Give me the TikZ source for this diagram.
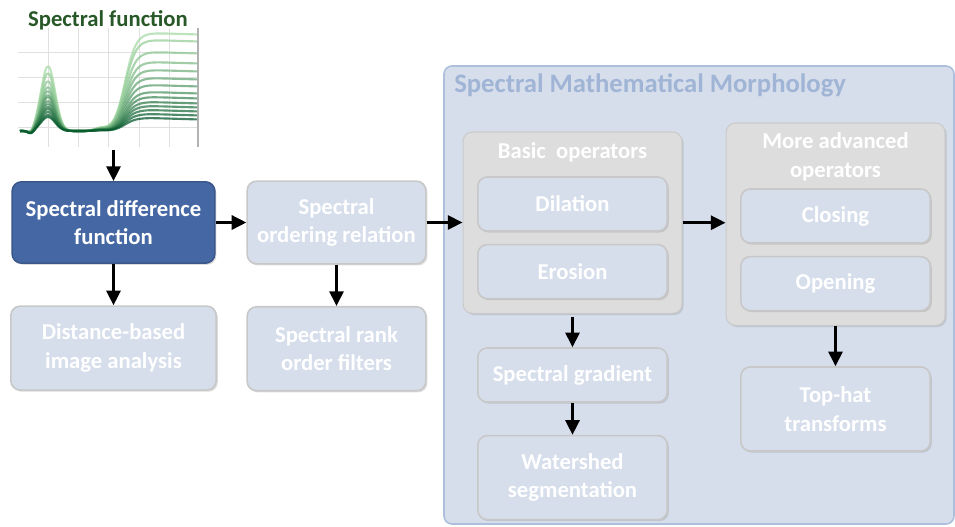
\documentclass[tikz,border=0pt]{standalone}
\usepackage{fontspec}
\setmainfont{Carlito}
\usetikzlibrary{positioning,arrows.meta,fit,backgrounds,calc,shadows}
\definecolor{mmdark}{RGB}{69,104,164}
\definecolor{mmlight}{RGB}{214,222,235}
\definecolor{mmedge}{RGB}{200,200,200}
\definecolor{mmgroup}{RGB}{221,221,221}
\definecolor{mmframe}{RGB}{172,192,222}
\definecolor{mmtitle}{RGB}{160,180,214}
\definecolor{mmgreen}{RGB}{40,88,40}
\definecolor{mmleaflight}{RGB}{165,218,165}
\definecolor{mmleafdark}{RGB}{0,85,40}
\newcommand\mmfont{\fontsize{17}{21.5}\selectfont\bfseries}
\tikzset{
  mm/.style={font=\mmfont, text=white},
  mmshadow/.style={drop shadow={shadow xshift=1.2pt, shadow yshift=-1.2pt, opacity=0.3, fill=black!45}},
  mmbox/.style 2 args={
    mm, draw=#1, fill=#2, line width=1.2pt, rounded corners=7pt,
    align=center, inner sep=2pt, mmshadow
  },
  mmarr/.style={-{Triangle[length=11pt,width=10.5pt]}, line width=2.2pt, draw=black},
  mmgroupbox/.style={
    draw=mmgroup!92!black, fill=mmgroup, line width=0.8pt, rounded corners=7pt,
    inner sep=10.5pt, mmshadow
  },
  mmframebox/.style={draw=mmframe, fill=mmlight, line width=1.2pt, rounded corners=6pt},
  mmcurve/.style={line width=1.6pt, opacity=0.75, line join=round},
}

\begin{document}
\begin{tikzpicture}[x=0.75pt, y=-0.75pt, mm]
    \useasboundingbox (0,0) rectangle (955,526);

    % Spectral function (chart)
    \node[minimum width=136.5pt, minimum height=89pt, inner sep=0pt] (chart) at (109,87.5) {};
    \node[font=\mmfont, text=mmgreen, inner sep=0pt] (charttitle) at (108,20) {Spectral function};
    \foreach \gx in {48,78,108,139,169}
      \draw[black!12, line width=0.5pt] (\gx,28) -- (\gx,147);
    \foreach \gy in {52,77,102,127}
      \draw[black!12, line width=0.5pt] (18,\gy) -- (198,\gy);
    \draw[black!30, line width=0.8pt] (198,28) -- (198,147);
    \foreach \t/\p/\q in {0/65/33, 8/58/40, 15/50/52, 22/44/62, 30/40/70, 38/36/78, 45/34/85,
                          52/30/92, 60/27/97, 66/24/102, 72/22/106, 80/19/110, 88/16/114, 96/14/118} {
      \draw[mmcurve, draw=mmleafdark!\t!mmleaflight] plot[domain=20:197, samples=80, smooth]
        (\x, {131 + 3*exp(-min(9,((\x-31)/4)^2)) - \p*exp(-min(9,((\x-48)/10)^2))
              - 0.04*\p*exp(-min(9,((\x-100)/8)^2))
              - (131-\q)/(1+exp(max(-8,min(8,(125-\x)/5.5)))) + 0.03*(\x-150)*(\x>150)});
    }

    % Main row
    \node[mmbox={mmdark!85!black}{mmdark}, minimum width=152pt, minimum height=61pt] (sdf) at (113.5,222.5) {Spectral difference\\function};
    \node[mmbox={mmedge}{mmlight}, minimum width=134pt, minimum height=62pt] (sor) at (336.5,222.5) {Spectral\\ordering relation};
    \node[mmbox={mmedge}{mmlight}, minimum width=154pt, minimum height=63pt, below=31pt of sdf] (dba) {Distance-based\\image analysis};
    \node[mmbox={mmedge}{mmlight}, minimum width=134pt, minimum height=63pt, below=31pt of sor] (srof) {Spectral rank\\order filters};

    % Spectral Mathematical Morphology
    \node[mmbox={mmedge}{mmlight}, minimum width=142pt, minimum height=40.5pt] (dil) at (572.5,204) {Dilation};
    \node[mmbox={mmedge}{mmlight}, minimum width=142pt, minimum height=40.5pt, below=9pt of dil] (ero) {Erosion};
    \node[mmbox={mmedge}{mmlight}, minimum width=142pt, minimum height=40.5pt] (clo) at (835.5,216) {Closing};
    \node[mmbox={mmedge}{mmlight}, minimum width=142pt, minimum height=40.5pt, below=9pt of clo] (ope) {Opening};
    \node[mmbox={mmedge}{mmlight}, minimum width=142pt, minimum height=40.5pt] (sgr) at (572.5,375) {Spectral gradient};
    \node[mmbox={mmedge}{mmlight}, minimum width=142pt, minimum height=63pt, below=24pt of sgr] (wat) {Watershed\\segmentation};
    \node[mmbox={mmedge}{mmlight}, minimum width=142pt, minimum height=63pt] (toph) at (835.5,409) {Top-hat\\transforms};
    \coordinate (bastop) at (572.5,146);
    \coordinate (advtop) at (835.5,137);

    \begin{scope}[on background layer]
      \node[mmframebox, minimum width=382.5pt, minimum height=343.5pt] (smm) at (699,295) {};
      \node[mmgroupbox, fit=(bastop)(dil)(ero)] (basgrp) {};
      \node[mmgroupbox, fit=(advtop)(clo)(ope)] (advgrp) {};
    \end{scope}
    \node[font=\fontsize{20}{24}\selectfont\bfseries, text=mmtitle, anchor=west, inner sep=0pt] (smmtitle) at (454,85) {Spectral Mathematical Morphology};
    \node[mm, inner sep=0pt] (bastitle) at (572.5,152) {Basic\ \ operators};
    \node[mm, inner sep=0pt, align=center] (advtitle) at (835.5,157) {More advanced\\operators};

    % Connections
    \draw[mmarr, shorten <=2pt] (sdf.north |- chart.south) -- (sdf.north);
    \draw[mmarr] (sdf.east) -- (sor.west);
    \draw[mmarr] (sor.east) -- (sor.east -| basgrp.west);
    \draw[mmarr] (sdf.south) -- (dba.north);
    \draw[mmarr] (sor.south) -- (srof.north);
    \draw[mmarr] (basgrp.east) -- (basgrp.east -| advgrp.west);
    \draw[mmarr, shorten <=2pt] (basgrp.south) -- (sgr.north);
    \draw[mmarr] (sgr.south) -- (wat.north);
    \draw[mmarr] (advgrp.south) -- (toph.north);
  \end{tikzpicture}
\end{document}
